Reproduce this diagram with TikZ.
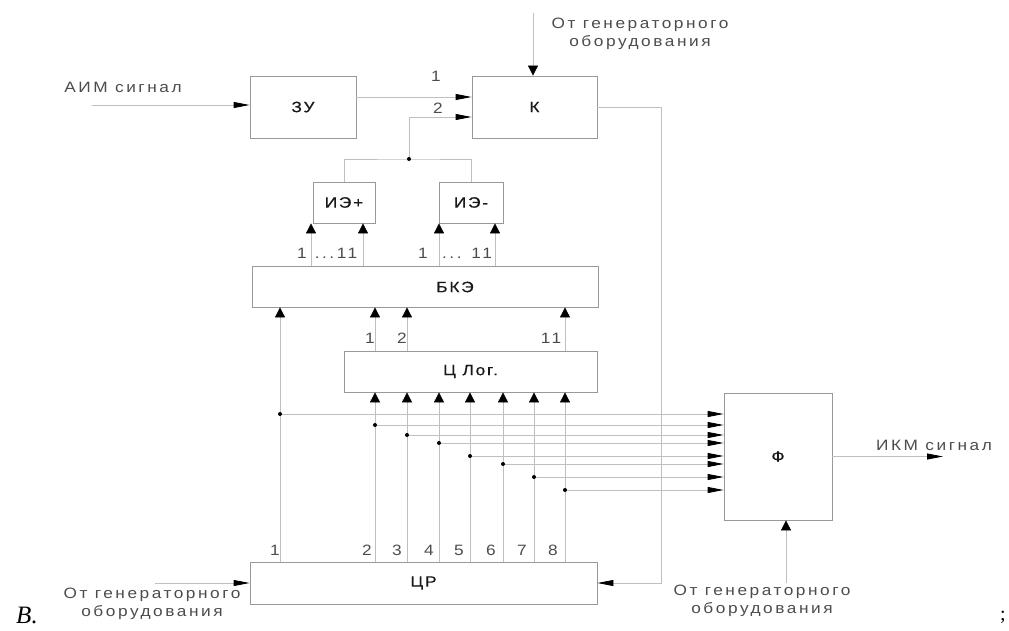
\documentclass[tikz,border=0pt]{standalone}
\usepackage{fontspec}
\setmainfont{Liberation Serif}
\newfontfamily\lblfont{Liberation Sans}[FakeStretch=1.15,LetterSpace=17]
\newfontfamily\blkfont{Liberation Sans}[FakeStretch=1.15,LetterSpace=12,FakeBold=0.6]
\usetikzlibrary{arrows.meta,calc}

\begin{document}
\begin{tikzpicture}[x=1pt,y=-1pt,
  every node/.style={font=\lblfont\fontsize{15}{18}\selectfont,text=black!70,inner sep=0pt},
  blk/.style n args={2}{draw=black!40,line width=0.8pt,text=black!90,font=\blkfont\fontsize{15}{18}\selectfont,
    minimum width=#1pt,minimum height=#2pt},
  wire/.style={draw=black!25,line width=0.8pt},
  harr/.style={-{Triangle[length=16pt,width=6pt,color=black]}},
  varr/.style={-{Triangle[length=10pt,width=10pt,color=black]}},
  dot/.style={circle,fill=black,minimum size=4pt},
  gen/.style={align=center}]
  \useasboundingbox (0,0) rectangle (1009,631);

  \node[blk={106}{62}] (ZU)  at (303,107)   {ЗУ};
  \node[blk={125}{62}] (K)   at (534.5,107) {К};
  \node[blk={62}{41}]  (IEp) at (344,202.5) {ИЭ+};
  \node[blk={64}{41}]  (IEm) at (471,202.5) {ИЭ-};
  \node[blk={346}{41}] (BKE) at (425,286.5) {};
  \node[font=\blkfont\fontsize{15}{18}\selectfont,text=black!90] (BKEt) at (455,287) {БКЭ};
  \node[blk={253}{41}] (CL)  at (470.5,371.5) {Ц Лог.};
  \node[blk={108}{127}] (F)  at (778,456.5) {Ф};
  \node[blk={347}{42}] (CR)  at (423.5,583) {ЦР};

  \node (aim) at (123,87) {АИМ сигнал};
  \coordinate (aimin) at (92,105);
  \draw[wire,harr] (aimin) -- (ZU.west |- aimin);

  \draw[wire,harr] ([yshift=10pt]ZU.east) -- ([yshift=10pt]K.west);
  \node (k1) at (436,76) {1};
  \node (k2) at (438,108) {2};
  \coordinate (j) at (409,159);
  \draw[wire] (IEp.north) |- (j) -| (IEm.north);
  \draw[wire,harr] (j) |- ([yshift=-10pt]K.west);
  \node[dot] at (j) {};

  \node[gen] (gtop) at (640,34) {От генераторного\\оборудования};
  \coordinate (gk) at (533,13);
  \draw[wire,varr] (gk) -- (K.north -| gk);

  \foreach \n/\x in {a/311,b/363,c/439,d/495}
    \coordinate (ie\n) at (\x,266);
  \foreach \n in {a,b}
    \draw[wire,varr] (BKE.north -| ie\n) -- (IEp.south -| ie\n);
  \foreach \n in {c,d}
    \draw[wire,varr] (BKE.north -| ie\n) -- (IEm.south -| ie\n);
  \node (iep1) at (302,253) {1};
  \node (iep2) at (336,253) {...11};
  \node (iem1) at (423,253) {1};
  \node (iem2) at (467,253) {... 11};

  \foreach \n/\x/\y/\l in {1/280/414/275,2/375/425/367,3/407/435/397,4/439/443/429,
                           5/470/456/459,6/503/464/491,7/534/477/522,8/565/490/553}{
    \coordinate (c\n) at (\x,\y);
    \node (n\n) at (\l,550) {\n};
  }
  \draw[wire,varr] (CR.north -| c1) -- (BKE.south -| c1);
  \foreach \n in {2,...,8}
    \draw[wire,varr] (CR.north -| c\n) -- (CL.south -| c\n);
  \foreach \n in {1,...,8}{
    \draw[wire,harr] (c\n) -- (F.west |- c\n);
    \node[dot] (d\n) at (c\n) {};
  }

  \foreach \n in {2,3,8}
    \draw[wire,varr] (CL.north -| c\n) -- (BKE.south -| c\n);
  \node (b1) at (370,338) {1};
  \node (b2) at (402,338) {2};
  \node (b11) at (551,338) {11};

  \coordinate (ikm) at (943,456.5);
  \draw[wire,harr] (F.east) -- (ikm);
  \node (ikmt) at (934,445) {ИКМ сигнал};

  \node[gen] (gbot) at (762,601) {От генераторного\\оборудования};
  \coordinate (gf) at (786,583);
  \draw[wire,varr] (gf) -- (F.south -| gf);

  \coordinate (kr) at (661,583);
  \draw[wire,harr] (K.east) -| (kr) -- (CR.east);

  \node[gen] (gleft) at (152,604) {От генераторного\\оборудования};
  \coordinate (gc) at (155,583);
  \draw[wire,harr] (gc) -- (CR.west);

  \node[font=\rmfamily\itshape\fontsize{25}{25}\selectfont,text=black] (vv) at (27,615) {В.};
  \node[font=\rmfamily\fontsize{20}{20}\selectfont,text=black] (sc) at (1003,617) {;};
\end{tikzpicture}
\end{document}
